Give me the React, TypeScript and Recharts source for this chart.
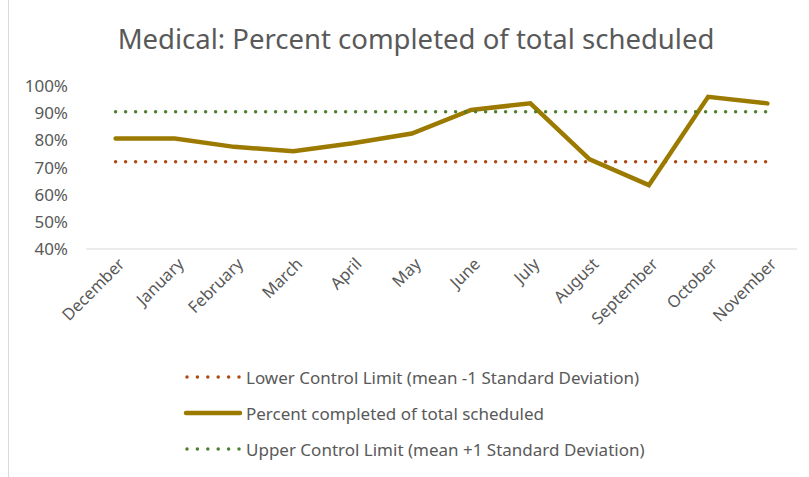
import React from "react";
import { LineChart, Line, XAxis, YAxis, Legend } from "recharts";

const months = [
  "December",
  "January",
  "February",
  "March",
  "April",
  "May",
  "June",
  "July",
  "August",
  "September",
  "October",
  "November",
];
const percentCompleted = [80.7, 80.7, 77.6, 76.0, 78.9, 82.5, 91.2, 93.6, 73.0, 63.5, 96.0, 93.6];
const lowerLimit = [72.1, 72.1, 72.1, 72.1, 72.1, 72.1, 72.1, 72.1, 72.1, 72.1, 72.1, 72.1];
const upperLimit = [90.5, 90.5, 90.5, 90.5, 90.5, 90.5, 90.5, 90.5, 90.5, 90.5, 90.5, 90.5];
const yTicks = [40, 50, 60, 70, 80, 90, 100];

const data = months.map((m, i) => ({
  month: m,
  lower: lowerLimit[i],
  pct: percentCompleted[i],
  upper: upperLimit[i],
}));

const FONT = "'Noto Sans', sans-serif";
const GRAY = "#595959";
const GOLD = "#9C7A00";
const RUST = "#B04A12";
const GREEN = "#4E7F2E";

const series = [
  { key: "lower", name: "Lower Control Limit (mean -1 Standard Deviation)", color: RUST, dotted: true },
  { key: "pct", name: "Percent completed of total scheduled", color: GOLD, dotted: false },
  { key: "upper", name: "Upper Control Limit (mean +1 Standard Deviation)", color: GREEN, dotted: true },
];

const MonthTick = (props: any) => {
  const { x, y, payload } = props;
  return (
    <g transform={`translate(${x + 6},${y + 4})`}>
      <text
        textAnchor="end"
        transform="rotate(-45)"
        dy="0.35em"
        fill={GRAY}
        fontSize={16.5}
        fontFamily={FONT}
      >
        {payload.value}
      </text>
    </g>
  );
};

const LegendBox = () => (
  <div style={{ height: 138, paddingTop: 40, boxSizing: "border-box", paddingLeft: 183 }}>
    {series.map((s) => (
      <div key={s.key} style={{ display: "flex", alignItems: "center", height: 36 }}>
        <svg width={60} height={10} style={{ marginRight: 3 }}>
          {s.dotted ? (
            <line x1={4} y1={5} x2={56} y2={5} stroke={s.color} strokeWidth={3.5} strokeDasharray="0 10.4" strokeLinecap="round" />
          ) : (
            <line x1={3} y1={5} x2={57} y2={5} stroke={s.color} strokeWidth={4.5} strokeLinecap="round" />
          )}
        </svg>
        <span style={{ fontFamily: FONT, fontSize: 17, color: GRAY }}>{s.name}</span>
      </div>
    ))}
  </div>
);

export default function App() {
  return (
    <div style={{ position: "absolute", left: 0, top: 0, width: 809, height: 477, background: "#fff" }}>
      <div style={{ position: "absolute", left: 8, top: 0, width: 1, height: 477, background: "#d9d9d9" }} />
      <div
        style={{
          position: "absolute",
          left: 0,
          top: 20,
          width: 832,
          textAlign: "center",
          fontFamily: FONT,
          fontSize: 27.5,
          color: GRAY,
        }}
      >
        Medical: Percent completed of total scheduled
      </div>
      <LineChart width={809} height={477} data={data} margin={{ top: 86, right: 12, left: 0, bottom: 20 }}>
        <XAxis
          dataKey="month"
          interval={0}
          height={70}
          padding={{ left: 29.6, right: 29.6 }}
          axisLine={{ stroke: "#d9d9d9" }}
          tickLine={false}
          tick={<MonthTick />}
        />
        <YAxis
          domain={[40, 100]}
          ticks={yTicks}
          width={86}
          axisLine={false}
          tickLine={false}
          tickMargin={12}
          tickFormatter={(v: number) => `${v}%`}
          tick={{ fill: GRAY, fontSize: 17, fontFamily: FONT }}
        />
        <Legend verticalAlign="bottom" height={138} wrapperStyle={{ left: 0, width: 809 }} content={<LegendBox />} />
        {series.map((s) => (
          <Line
            key={s.key}
            dataKey={s.key}
            name={s.name}
            stroke={s.color}
            strokeWidth={s.dotted ? 3.5 : 4.5}
            strokeDasharray={s.dotted ? "0 10" : undefined}
            strokeLinecap="round"
            dot={false}
            activeDot={false}
            isAnimationActive={false}
          />
        ))}
      </LineChart>
    </div>
  );
}
